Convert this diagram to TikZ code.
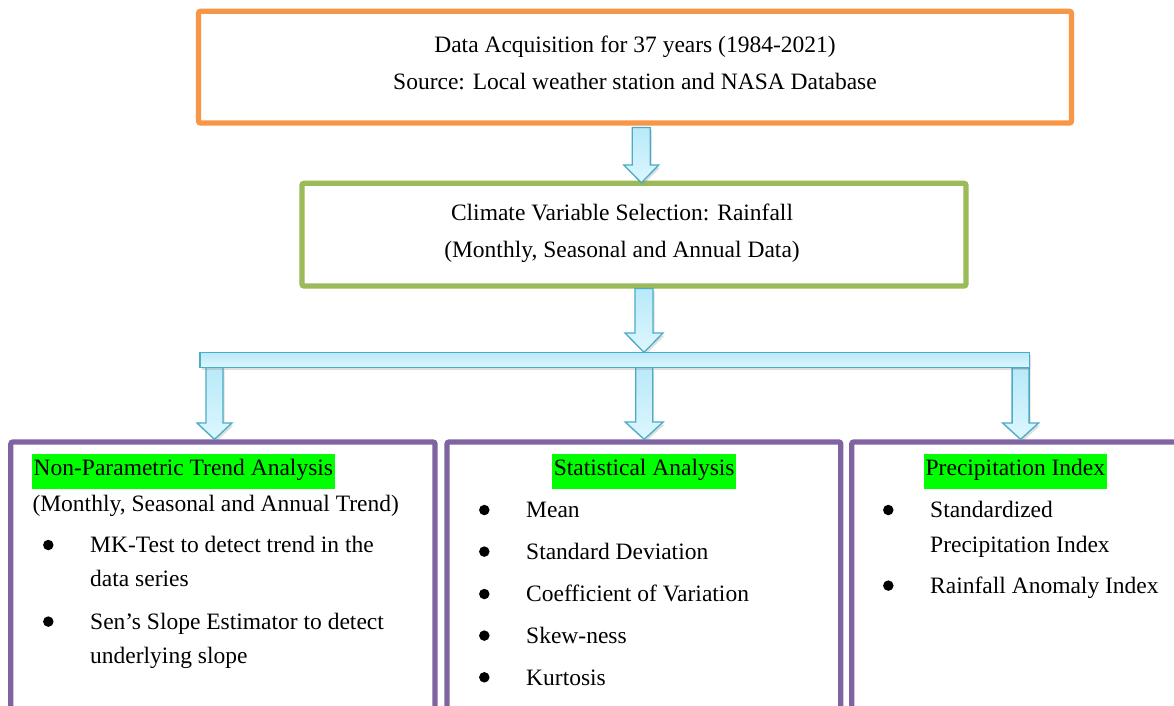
\documentclass[tikz,border=0pt]{standalone}
\usepackage{fontspec}
\setmainfont{Liberation Serif}
\usetikzlibrary{shadows}
\definecolor{boxorange}{HTML}{F79646}
\definecolor{boxgreen}{HTML}{9BBB59}
\definecolor{boxpurple}{HTML}{8064A2}
\definecolor{hlgreen}{HTML}{00FF00}
\definecolor{arrowline}{HTML}{4BACC6}
\definecolor{arrowtop}{HTML}{B9E9F8}
\definecolor{arrowbot}{HTML}{DDF7FE}
\tikzset{
  box/.style={draw, line width=5.2pt, rounded corners=2pt, inner sep=0pt, outer sep=0pt},
  txt/.style={anchor=base, inner sep=0pt, font=\fontsize{23.5}{28}\selectfont},
  txtl/.style={txt, anchor=base west},
  hl/.style={txt, fill=hlgreen, inner xsep=1.5pt, inner ysep=0pt, text height=21.7pt, text depth=13pt},
  hll/.style={hl, anchor=base west},
  bul/.style={circle, fill=black, inner sep=0pt, minimum size=10.5pt},
  arr/.style={draw=arrowline, line width=1.3pt, line join=miter, top color=arrowtop, bottom color=arrowbot,
    drop shadow={opacity=0.25, shadow xshift=1.5pt, shadow yshift=-2.5pt}}
}
% #1 centre x, #2 shaft half width, #3 head half width, #4 top y, #5 head start y, #6 tip y
\newcommand{\blkarrow}[6]{%
  \path[arr] ({#1-#2},#4) -- ({#1+#2},#4) -- ({#1+#2},#5) -- ({#1+#3},#5) -- (#1,#6)
     -- ({#1-#3},#5) -- ({#1-#2},#5) -- cycle;}
\begin{document}
\begin{tikzpicture}[x=1pt,y=-1pt]
\useasboundingbox (0,0) rectangle (1174,705);
\clip (0,0) rectangle (1174,705);
\fill[white] (0,0) rectangle (1174,705);

% boxes
\node[box, draw=boxorange, minimum width=873pt, minimum height=111.7pt] (acq) at (635,67.15) {};
\node[box, draw=boxgreen, minimum width=664pt, minimum height=102.7pt] (sel) at (634,234.65) {};
\node[box, draw=boxpurple, minimum width=424.2pt, minimum height=318pt] (trend) at (222.9,601) {};
\node[box, draw=boxpurple, minimum width=393.8pt, minimum height=318pt] (stat) at (643.9,601) {};
\node[box, draw=boxpurple, minimum width=424.2pt, minimum height=318pt] (prec) at (1063.8,601) {};

% arrows
\blkarrow{641.3}{9}{17.5}{127.5}{165}{182.7}
\blkarrow{644}{9}{19}{288.5}{333}{352.3}
\blkarrow{214.5}{8.5}{17.5}{367}{423}{439.3}
\blkarrow{644.2}{8.5}{19}{367}{422}{439.3}
\blkarrow{1020.6}{8.5}{18}{368}{423}{439.3}
\path[arr] (200,352.3) rectangle (1029.3,367.3);

% top box text
\node[txt] (acq1) at (635,52.3) {Data Acquisition for 37 years (1984-2021)};
\node[txt] (acq2) at (635,89.3) {Source: Local weather station and NASA Database};
% selection box text
\node[txt] (sel1) at (622,220) {Climate Variable Selection: Rainfall};
\node[txt] (sel2) at (622,257.3) {(Monthly, Seasonal and Annual Data)};

% trend box
\node[hll] (trendh) at (32,475.7) {Non-Parametric Trend Analysis};
\node[txtl] (trends) at (32.3,511) {(Monthly, Seasonal and Annual Trend)};
\node[bul] (tb1) at (48.3,545) {};
\node[txtl] (t1a) at (90,552.7) {MK-Test to detect trend in the};
\node[txtl] (t1b) at (90,586.7) {data series};
\node[bul] (tb2) at (48.3,621.6) {};
\node[txtl] (t2a) at (90,629.3) {Sen’s Slope Estimator to detect};
\node[txtl] (t2b) at (90,663.3) {underlying slope};

% statistical box
\node[hl] (stath) at (644.2,475.7) {Statistical Analysis};
\node[bul] (sb1) at (484.3,510) {};
\node[txtl] (s1) at (526,517.7) {Mean};
\node[bul] (sb2) at (484.3,551.6) {};
\node[txtl] (s2) at (526,559.3) {Standard Deviation};
\node[bul] (sb3) at (484.3,594) {};
\node[txtl] (s3) at (526,601.7) {Coefficient of Variation};
\node[bul] (sb4) at (484.3,635.6) {};
\node[txtl] (s4) at (526,643.3) {Skew-ness};
\node[bul] (sb5) at (484.3,677.3) {};
\node[txtl] (s5) at (526,685) {Kurtosis};

% precipitation box
\node[hl] (prech) at (1015.4,475.7) {Precipitation Index};
\node[bul] (pb1) at (888.3,510) {};
\node[txtl] (p1a) at (930,517.7) {Standardized};
\node[txtl] (p1b) at (930,552.7) {Precipitation Index};
\node[bul] (pb2) at (888.3,585.6) {};
\node[txtl] (p2) at (930,593.3) {Rainfall Anomaly Index};
\end{tikzpicture}
\end{document}
